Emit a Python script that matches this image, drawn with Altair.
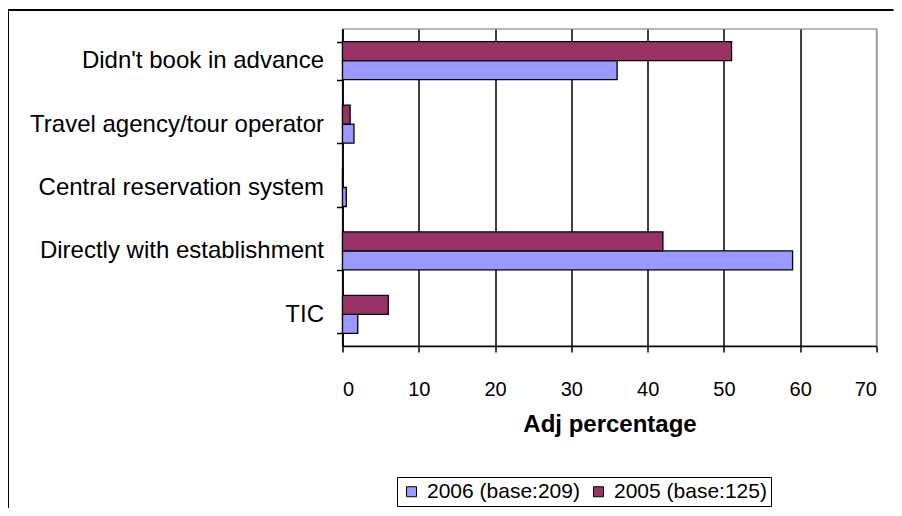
import altair as alt
import pandas as pd

categories = ["Didn't book in advance", "Travel agency/tour operator",
              "Central reservation system", "Directly with establishment", "TIC"]
series = ["2006 (base:209)", "2005 (base:125)"]
values_2006 = [36, 1.5, 0.5, 59, 2]
values_2005 = [51, 1, 0, 42, 6]
colors = ["#9999FF", "#993366"]
x_ticks = [0, 10, 20, 30, 40, 50, 60, 70]

rows = []
for c, a, b in zip(categories, values_2006, values_2005):
    rows.append({"cat": c, "series": series[0], "value": a})
    rows.append({"cat": c, "series": series[1], "value": b})
df = pd.DataFrame(rows)

FONT = "Liberation Sans"

bars = alt.Chart(df).mark_bar(stroke="black", strokeWidth=1.3).encode(
    y=alt.Y("cat:N", sort=categories, title=None,
            scale=alt.Scale(paddingInner=0.4, paddingOuter=0.2),
            axis=alt.Axis(labelFont=FONT, labelFontSize=24, labelColor="black",
                          labelPadding=13, tickSize=6, tickColor="black",
                          tickWidth=1.5, tickBand="extent",
                          domainColor="black", domainWidth=1.5, labelLimit=400)),
    yOffset=alt.YOffset("series:N", sort=[series[1], series[0]]),
    x=alt.X("value:Q", title="Adj percentage",
            scale=alt.Scale(domain=[0, 70], nice=False),
            axis=alt.Axis(values=x_ticks, labelFont=FONT, labelFontSize=20,
                          labelColor="black", labelPadding=27, tickSize=6,
                          tickColor="black", tickWidth=1.5,
                          domainColor="black", domainWidth=1.5,
                          grid=True,
                          gridColor={"expr": "datum.value >= 70 ? '#a0a0a0' : 'black'"},
                          gridWidth=1.5,
                          titleFont=FONT, titleFontSize=24, titleFontWeight="bold",
                          titleColor="black", titlePadding=13)),
    color=alt.Color("series:N", sort=series,
                    scale=alt.Scale(domain=series, range=colors),
                    legend=alt.Legend(title=None, orient="none", direction="horizontal",
                                      legendX=54.5, legendY=448,
                                      labelFont=FONT, labelFontSize=21,
                                      labelColor="black", labelLimit=400,
                                      symbolType="square",
                                      symbolSize=100, symbolStrokeColor="black",
                                      symbolStrokeWidth=1, strokeColor="black",
                                      padding=4, columnPadding=8, labelOffset=5,
                                      symbolOpacity=1)),
)

frame_data = alt.Data(values=[{"k": 1}])
left_line = alt.Chart(frame_data).mark_rule(color="black", strokeWidth=2).encode(
    x=alt.value(-334.5), y=alt.value(-19), y2=alt.value(480))
top_line = alt.Chart(frame_data).mark_rule(color="black", strokeWidth=2).encode(
    x=alt.value(-334.5), x2=alt.value(551), y=alt.value(-19))

chart = alt.layer(bars, left_line, top_line).properties(
    width=534, height=317,
    autosize=alt.AutoSizeParams(type="none"),
    padding={"left": 334.5, "top": 21, "right": 17.5, "bottom": 162},
    background="white",
).configure_view(stroke="#a0a0a0", strokeWidth=1.5)

chart.save("out.html", embed_options={"renderer": "svg", "actions": False})
